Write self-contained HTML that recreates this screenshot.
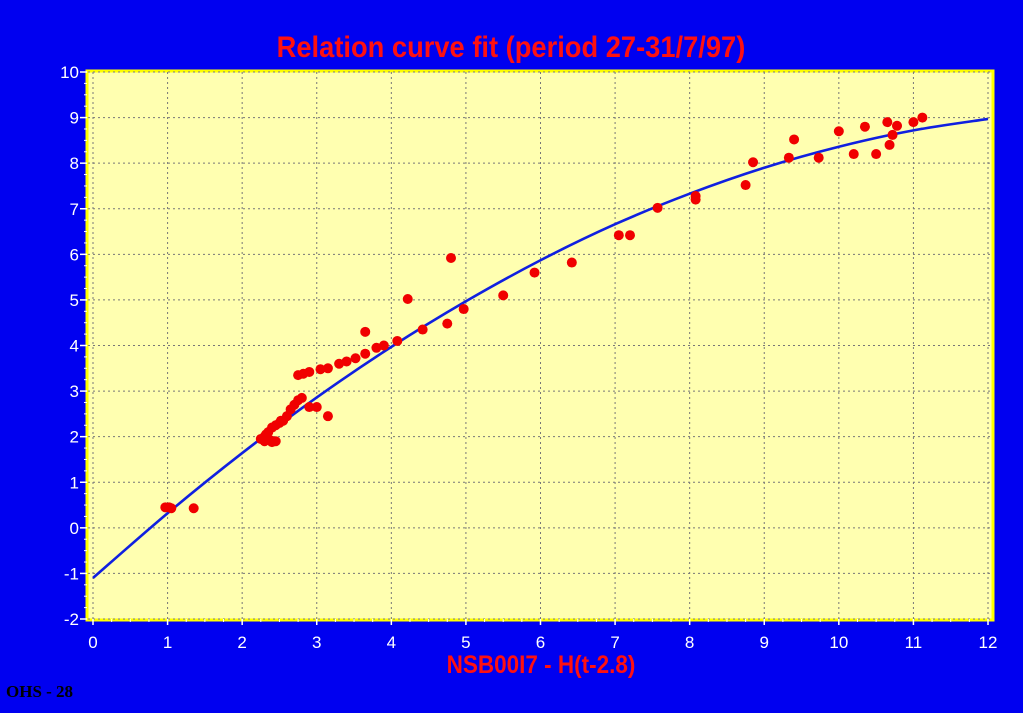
<!DOCTYPE html>
<html><head><meta charset="utf-8"><style>
body{margin:0;background:#0000f0;width:1023px;height:708px;overflow:hidden;font-family:"Liberation Sans",sans-serif}
</style></head><body>
<svg id="chart" width="1023" height="708" xmlns="http://www.w3.org/2000/svg">
<rect width="1023" height="708" fill="#0000f0"/>
<text x="511" y="57" fill="#ff1010" font-size="30" font-weight="bold" text-anchor="middle" transform="translate(511,0) scale(0.91,1) translate(-511,0)">Relation curve fit (period 27-31/7/97)</text>
<rect x="87" y="71" width="906" height="549" fill="#ffffb0" stroke="#ffff00" stroke-width="3"/>
<g id="grid"></g><g id="axes"></g><g id="curve"></g><g id="points"></g>
<text x="541" y="673" fill="#ff1010" font-size="25" font-weight="bold" text-anchor="middle" transform="translate(541,0) scale(0.9,1) translate(-541,0)">NSB00I7 - H(t-2.8)</text>
<text x="6" y="697" fill="#000" font-size="17" font-weight="bold" font-family="Liberation Serif,serif">OHS - 28</text>
</svg>
<script>
const xTicks=[0,1,2,3,4,5,6,7,8,9,10,11,12];
const yTicks=[-2,-1,0,1,2,3,4,5,6,7,8,9,10];
const curveX=[0,1,2,3,4,5,6,7,8,9,10,11,12];
const curveY=[-1.1,0.32,1.64,2.86,3.97,4.97,5.87,6.66,7.33,7.9,8.36,8.72,8.97];
const ptX=[0.97,1.02,1.05,1.35,2.25,2.3,2.35,2.4,2.45,2.5,2.55,2.6,2.65,2.7,2.75,2.8,2.3,2.4,2.45,2.38,2.28,2.32,2.52,2.9,3.0,3.15,2.75,2.82,2.9,3.05,3.15,3.3,3.4,3.52,3.65,3.65,3.8,3.9,4.08,4.22,4.42,4.75,4.8,4.97,5.5,5.92,6.42,7.05,7.2,7.57,8.08,8.08,8.75,8.85,9.33,9.4,9.73,10.0,10.2,10.35,10.5,10.65,10.68,10.72,10.78,11.0,11.12];
const ptY=[0.45,0.45,0.43,0.43,1.95,2.0,2.1,2.2,2.25,2.3,2.35,2.45,2.6,2.7,2.8,2.85,1.9,1.88,1.9,1.92,1.95,2.05,2.35,2.65,2.65,2.45,3.35,3.38,3.42,3.48,3.5,3.6,3.65,3.72,3.82,4.3,3.95,4.0,4.1,5.02,4.35,4.48,5.92,4.8,5.1,5.6,5.82,6.42,6.42,7.02,7.2,7.28,7.52,8.02,8.12,8.52,8.12,8.7,8.2,8.8,8.2,8.9,8.4,8.62,8.82,8.9,9.0];
const NS="http://www.w3.org/2000/svg";
const X0=93,X1=988,Y0=619,Y1=72;
const sx=v=>X0+(v-0)/12*(X1-X0);
const sy=v=>Y0-(v+2)/12*(Y0-Y1);
function mk(t,a,p){const e=document.createElementNS(NS,t);for(const k in a)e.setAttribute(k,a[k]);p.appendChild(e);return e;}
const grid=document.getElementById('grid'),axes=document.getElementById('axes');
xTicks.forEach(v=>{
 const l=mk('line',{x1:sx(v),x2:sx(v),y1:Y1,y2:Y0,stroke:'#777','stroke-dasharray':'2,3','stroke-width':1},grid);
 
 
 const t=mk('line',{x1:sx(v),x2:sx(v),y1:Y0,y2:Y0+6,stroke:'#fff','stroke-width':1.5},axes);
 
 
 if(v<12)for(let k=1;k<4;k++){const m=mk('line',{x1:sx(v+k/4),x2:sx(v+k/4),y1:Y0,y2:Y0+3,stroke:'#fff'},axes);
 
 }
 const tx=mk('text',{x:sx(v),y:648,fill:'#fff','font-size':17,'text-anchor':'middle'},axes);tx.textContent=v;
 
 
});
yTicks.forEach(v=>{
 const l=mk('line',{x1:X0-5,x2:X1+5,y1:sy(v),y2:sy(v),stroke:'#777','stroke-dasharray':'2,3','stroke-width':1},grid);
 
 
 const t=mk('line',{x1:80,x2:87,y1:sy(v),y2:sy(v),stroke:'#fff','stroke-width':1.5},axes);
 
 
 if(v<10)for(let k=1;k<4;k++){const m=mk('line',{x1:84,x2:87,y1:sy(v+k/4),y2:sy(v+k/4),stroke:'#fff'},axes);
 
 }
 const tx=mk('text',{x:79,y:sy(v)+6,fill:'#fff','font-size':17,'text-anchor':'end'},axes);tx.textContent=v;
 
 
});
const P=curveX.map((x,i)=>[sx(x),sy(curveY[i])]);
let d='M'+P[0][0]+','+P[0][1];
for(let i=0;i<P.length-1;i++){const p0=P[Math.max(i-1,0)],p1=P[i],p2=P[i+1],p3=P[Math.min(i+2,P.length-1)];
 d+=' C'+(p1[0]+(p2[0]-p0[0])/6)+','+(p1[1]+(p2[1]-p0[1])/6)+' '+(p2[0]-(p3[0]-p1[0])/6)+','+(p2[1]-(p3[1]-p1[1])/6)+' '+p2[0]+','+p2[1];}
const c=mk('path',{d:d,fill:'none',stroke:'#1020e0','stroke-width':2.6},document.getElementById('curve'));


const pg=document.getElementById('points');
ptX.forEach((x,i)=>{const e=mk('circle',{cx:sx(x),cy:sy(ptY[i]),r:5,fill:'#f00000'},pg);
 
 });
</script>
</body></html>
